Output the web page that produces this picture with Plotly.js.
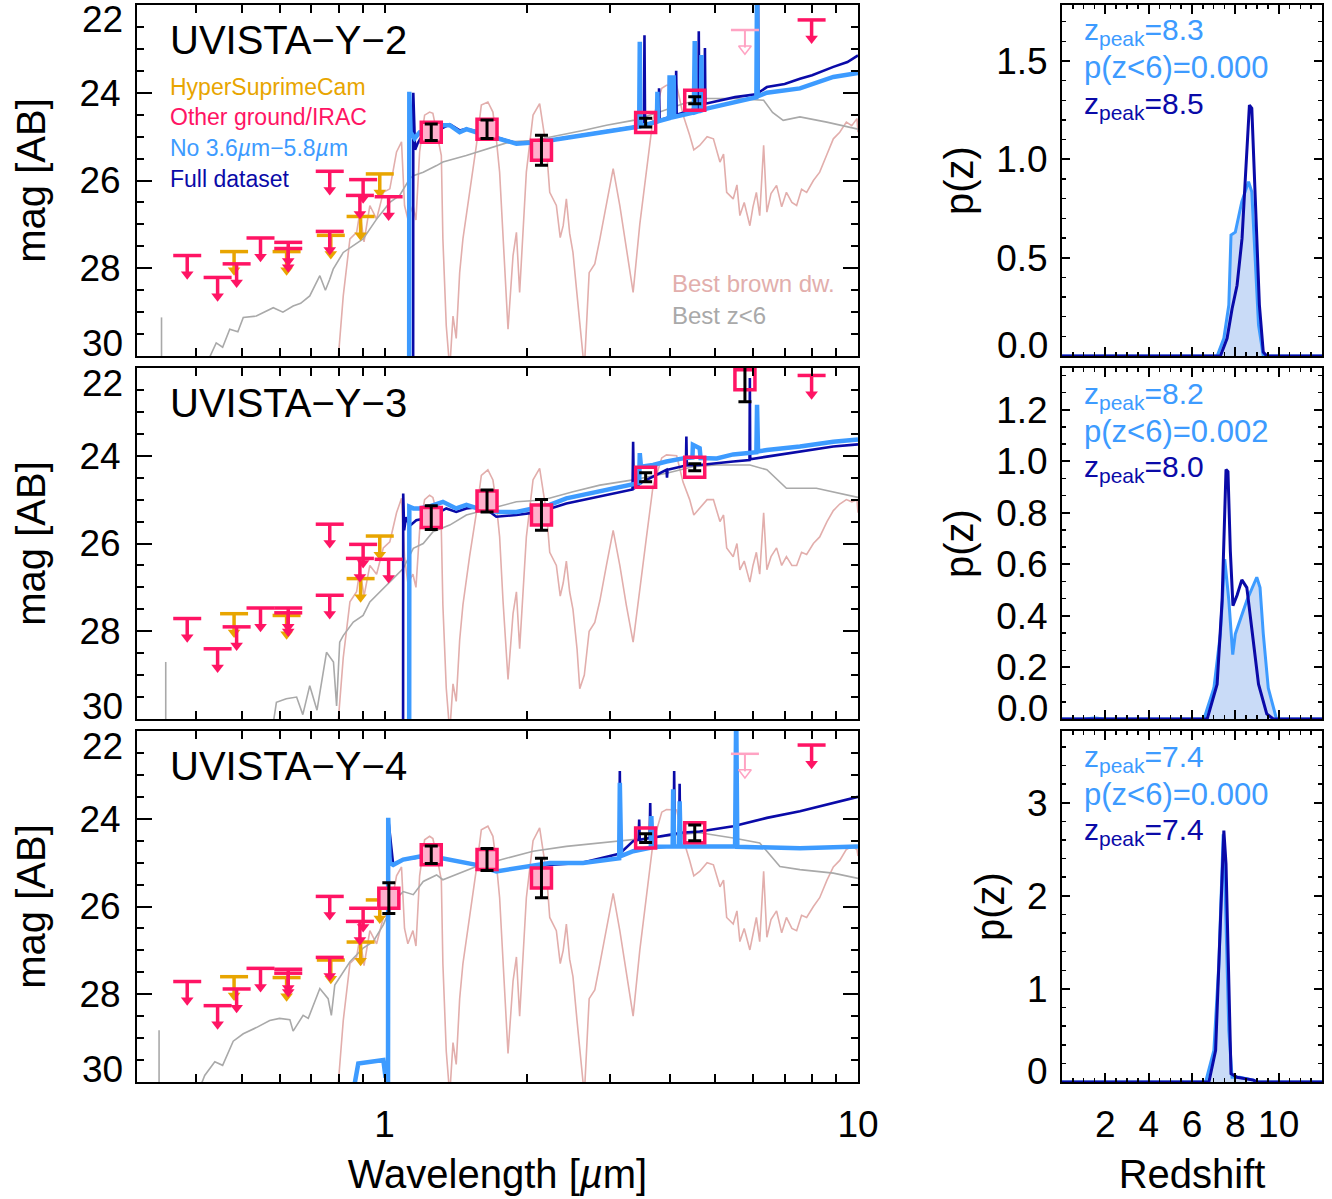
<!DOCTYPE html>
<html><head><meta charset="utf-8">
<script src="https://cdn.plot.ly/plotly-3.0.1.min.js"></script>
<style>html,body{margin:0;padding:0;background:#fff}#chart{width:1332px;height:1199px}</style>
</head><body><div id="chart"></div>
<script>
// ---------------- DATA ----------------
const panelNames = ['UVISTA\u2212Y\u22122', 'UVISTA\u2212Y\u22123', 'UVISTA\u2212Y\u22124'];
const zpeakNoIrac = ['8.3', '8.2', '7.4'];
const pLowZ = ['0.000', '0.002', '0.000'];
const zpeakFull = ['8.5', '8.0', '7.4'];

const wavelengthTickVals = [0.3,0.4,0.5,0.6,0.7,0.8,0.9,1,2,3,4,5,6,7,8,9,10];
const wavelengthTickText = ['','','','','','','','1','','','','','','','','','10'];
const magTickVals = [22,24,26,28,30];
const magTickText = ['','24','26','28',''];
const zTickVals = [2,4,6,8,10];
const zTickText = ['2','4','6','8','10'];

// brown dwarf template (shared wavelengths)
const bdLam = [0.795,0.818,0.845,0.873,0.887,0.905,0.931,0.962,0.994,1.026,1.06,1.086,1.102,1.12,1.148,1.165,1.186,1.215,1.245,1.265,1.297,1.318,1.328,1.35,1.373,1.395,1.417,1.441,1.464,1.512,1.563,1.601,1.653,1.694,1.722,1.75,1.779,1.823,1.868,1.899,1.929,1.962,1.993,2.059,2.126,2.198,2.233,2.306,2.35,2.384,2.421,2.46,2.5,2.55,2.584,2.642,2.705,2.78,2.85,2.942,3.04,3.14,3.24,3.35,3.46,3.57,3.69,3.85,3.94,4.14,4.27,4.41,4.5,4.63,4.8,4.95,5.11,5.2,5.28,5.45,5.55,5.63,5.75,5.91,6.0,6.1,6.2,6.32,6.42,6.55,6.73,6.9,7.06,7.25,7.42,7.6,7.79,8.05,8.3,8.6,8.87,9.15,9.45,9.7,9.95,10.0];
const bdMag1 = [30.3,28.63,27.33,27.18,26.72,27.4,26.57,26.88,26.27,26.19,25.35,25.12,26.57,26.88,26.57,26.9,25.35,24.51,24.44,24.47,25.05,25.43,27.33,29.31,30.3,29.09,29.6,28.1,27.33,26.27,25.2,24.28,24.21,24.44,25.05,25.81,27.33,29.39,27.71,27.18,28.55,27.18,25.81,24.51,24.25,25.28,26.27,26.57,27.3,27.03,26.42,27.2,27.64,28.6,29.24,30.3,28.1,27.9,27.33,26.57,25.73,26.57,27.56,28.55,27.0,25.81,24.59,23.9,23.83,23.83,24.5,24.97,25.3,25.2,25.0,25.05,25.58,25.4,26.27,26.42,26.1,26.8,26.5,27.03,26.6,26.27,26.8,25.2,26.72,26.3,26.11,26.6,26.27,26.5,26.57,26.2,26.27,26.0,25.81,25.4,25.05,24.9,24.67,24.75,24.59,24.9];
const bdMag2 = [30.3,28.6,27.33,27.1,26.6,27.2,26.5,26.7,26.1,25.96,25.3,24.97,26.3,26.9,26.7,27.0,25.7,25.0,24.9,24.95,25.4,25.7,27.4,29.3,30.3,29.2,29.6,28.2,27.4,26.3,25.3,24.45,24.32,24.55,25.1,25.85,27.3,29.1,27.6,27.1,28.4,27.1,25.85,24.55,24.29,25.3,26.2,26.5,27.2,26.9,26.4,27.1,27.5,28.4,29.31,29.0,28.0,27.8,27.3,26.5,25.7,26.5,27.4,28.25,27.0,25.9,24.7,24.05,23.98,24.0,24.6,25.0,25.35,25.2,25.0,25.0,25.5,25.35,26.1,26.3,26.0,26.6,26.4,26.88,26.5,26.2,26.7,25.3,26.6,26.3,26.1,26.5,26.3,26.5,26.5,26.2,26.25,26.0,25.85,25.5,25.25,25.1,25.0,25.05,25.01,25.3];
const bdMag3 = [30.3,28.6,27.3,27.15,26.7,27.35,26.55,26.85,26.25,26.15,25.3,25.1,26.5,26.85,26.55,26.9,25.3,24.48,24.4,24.45,25.0,25.4,27.3,29.3,30.3,29.1,29.6,28.1,27.3,26.25,25.15,24.25,24.17,24.4,25.0,25.8,27.3,29.35,27.7,27.15,28.5,27.15,25.8,24.5,24.21,25.25,26.25,26.55,27.3,27.0,26.4,27.2,27.6,28.6,29.2,30.3,28.1,27.9,27.3,26.55,25.7,26.55,27.5,28.5,27.0,25.8,24.55,23.85,23.79,23.8,24.45,24.95,25.3,25.2,25.0,25.05,25.55,25.4,26.25,26.4,26.1,26.8,26.5,26.99,26.6,26.25,26.8,25.2,26.7,26.3,26.1,26.6,26.25,26.5,26.55,26.2,26.25,26.0,25.8,25.4,25.1,24.95,24.7,24.63,24.7,24.85];

// best z<6 solution (grey); null breaks the line
const lowzLam1 = [0.338,0.338,null,0.42,0.441,0.455,0.471,0.49,0.503,0.536,0.56,0.582,0.61,0.641,0.665,0.695,0.73,0.75,0.766,0.779,0.818,0.859,0.901,0.962,1.026,1.076,1.13,1.15,1.207,1.288,1.328,1.488,1.64,1.837,2.059,2.344,2.625,2.942,3.35,3.81,4.27,4.79,5.45,6.32,6.6,6.95,7.54,8.59,9.95,10.0];
const lowzMag1 = [30.2,29.12,null,30.2,29.7,29.8,29.39,29.45,29.12,29.09,28.98,28.9,29.0,28.86,28.8,28.63,28.17,28.5,28.25,28.02,27.64,27.49,27.33,26.88,26.5,26.34,25.96,25.89,25.81,25.66,25.58,25.43,25.28,25.12,25.09,24.97,24.86,24.74,24.63,24.44,24.25,24.13,24.13,24.17,24.45,24.63,24.55,24.67,24.82,24.83];
const lowzLam2 = [0.345,0.345,null,0.58,0.591,0.62,0.652,0.672,0.695,0.72,0.754,0.78,0.792,0.804,0.818,0.859,0.901,0.931,0.994,1.06,1.095,1.15,1.207,1.266,1.373,1.489,1.694,1.899,2.16,2.5,2.85,3.35,3.94,4.48,5.03,5.91,6.42,7.06,8.17,9.95,10.0];
const lowzMag2 = [30.2,28.70,null,30.2,29.62,29.54,29.5,29.9,29.24,29.8,28.48,28.7,29.7,28.25,28.1,27.79,27.64,27.33,27.03,26.72,26.57,26.11,26.0,25.73,25.58,25.35,25.2,25.05,25.01,24.82,24.67,24.55,24.4,24.25,24.21,24.21,24.32,24.74,24.74,24.93,24.95];
const lowzLam3 = [0.334,0.334,null,0.405,0.417,0.438,0.455,0.479,0.503,0.536,0.572,0.6,0.631,0.641,0.673,0.69,0.73,0.76,0.772,0.785,0.845,0.901,0.946,0.994,1.043,1.095,1.15,1.207,1.288,1.328,1.563,1.808,2.059,2.421,2.85,3.35,3.94,4.63,5.45,6.2,6.84,7.54,8.87,9.95,10.0];
const lowzMag3 = [30.2,28.82,null,30.2,29.85,29.54,29.62,29.07,28.9,28.76,28.6,28.55,28.58,28.84,28.48,28.55,27.87,28.1,28.48,27.79,27.26,26.95,26.8,26.42,25.89,25.66,25.73,25.43,25.28,25.39,25.09,24.9,24.74,24.63,24.55,24.48,24.4,24.32,24.44,24.55,25.09,25.16,25.24,25.35,25.36];

// full dataset fit (dark blue)
const fullLam1 = [1.149,1.15,1.16,1.175,1.19,1.25,1.3,1.373,1.441,1.489,1.563,1.751,1.899,2.126,2.344,2.625,3.088,3.40,3.53,3.54,3.55,3.79,3.8,3.81,4.12,4.13,4.14,4.6,4.61,4.62,4.74,4.75,4.76,5.5,6.14,6.15,6.16,6.42,7.0,7.54,8.0,8.87,9.5,10.0];
const fullMag1 = [32,24.0,25.3,25.15,25.05,24.92,24.85,24.72,24.86,24.82,24.88,25.03,25.15,25.12,25.05,24.97,24.85,24.77,24.74,22.69,24.73,24.64,23.9,24.63,24.5,23.5,24.5,24.35,22.6,24.34,24.3,22.98,24.25,24.1,24.03,21.5,24.0,23.87,23.8,23.68,23.6,23.41,23.3,23.15];
const fullLam2 = [1.094,1.095,1.1,1.11,1.13,1.167,1.25,1.35,1.417,1.489,1.614,1.722,1.899,2.126,2.421,2.85,3.30,3.34,3.35,3.36,3.5,3.94,3.95,3.96,4.33,4.34,4.35,4.63,5.45,5.90,5.91,5.92,6.42,7.54,8.87,10.0];
const fullMag2 = [32,24.86,25.7,25.4,25.6,25.47,25.4,25.2,25.28,25.2,25.16,25.39,25.35,25.28,25.09,24.93,24.78,24.77,23.68,24.75,24.6,24.32,24.5,24.32,24.22,23.56,24.22,24.21,24.13,24.1,22.23,24.08,24.02,23.9,23.79,23.74];
const fullLam3 = [1.017,1.018,1.043,1.095,1.25,1.373,1.563,1.722,1.993,2.625,3.09,3.13,3.14,3.15,3.35,3.44,3.45,3.46,3.63,3.64,3.65,4.08,4.09,4.1,4.19,4.2,4.21,4.63,5.45,6.42,7.54,8.87,10.0];
const fullMag3 = [32,24.0,25.05,24.93,24.85,24.93,25.05,25.2,25.09,25.0,24.82,24.8,22.91,24.78,24.51,24.48,24.02,24.48,24.44,23.64,24.44,24.35,22.91,24.34,24.33,23.2,24.32,24.29,24.17,23.98,23.83,23.64,23.5];

// fit without 3.6-5.8um (light blue)
const noIracLam1 = [1.127,1.128,1.135,1.157,1.186,1.25,1.328,1.373,1.441,1.489,1.563,1.751,1.899,2.126,2.344,2.625,3.088,3.40,3.45,3.46,3.47,3.76,3.77,3.78,3.99,4.0,4.01,4.07,4.08,4.09,4.5,4.52,4.54,4.66,4.67,4.68,4.79,5.5,6.1,6.12,6.14,6.42,7.54,8.87,9.5,10.0];
const noIracMag1 = [32,23.98,24.9,25.04,24.9,24.85,24.74,24.74,24.9,24.83,24.9,25.05,25.16,25.12,25.05,24.97,24.86,24.78,24.77,22.84,24.76,24.66,23.98,24.65,24.58,23.6,24.57,24.55,23.6,24.55,24.45,22.82,24.44,24.4,23.14,24.4,24.36,24.22,24.1,21.5,24.08,24.0,23.9,23.64,23.6,23.55];
const noIracLam2 = [1.127,1.128,1.15,1.186,1.25,1.328,1.417,1.489,1.614,1.751,1.899,2.233,2.421,2.85,3.35,3.45,3.46,3.48,3.69,3.94,4.27,4.47,4.48,4.56,4.63,4.65,5.03,5.45,6.1,6.12,6.15,6.42,7.54,8.87,10.0];
const noIracMag2 = [32,25.16,25.2,25.2,25.15,25.05,25.2,25.12,25.24,25.28,25.28,25.12,24.97,24.82,24.67,24.62,23.94,24.25,24.21,24.13,24.06,24.04,23.75,23.8,23.83,24.05,24.06,23.97,23.92,22.84,23.9,23.87,23.79,23.68,23.63];
const noIracLam3 = [0.865,0.866,0.88,0.931,0.994,1.005,1.012,1.017,1.018,1.025,1.043,1.095,1.188,1.25,1.373,1.563,1.722,1.993,2.233,2.625,3.04,3.13,3.14,3.16,3.35,3.65,3.66,3.68,4.06,4.07,4.09,4.19,4.2,4.22,5.5,5.53,5.56,6.42,7.54,8.87,10.0];
const noIracMag3 = [32,30.0,29.58,29.54,29.5,29.9,29.6,30.2,23.98,25.0,25.05,24.93,24.86,24.85,24.93,25.05,25.2,25.09,25.01,25.01,24.93,24.9,23.18,24.85,24.74,24.66,23.94,24.64,24.63,23.33,24.63,24.63,23.6,24.63,24.63,21.5,24.64,24.65,24.67,24.65,24.63];

// detections (filled: NIR, open: IRAC)
const nirLam1 = [1.255,1.646,2.145], nirMag1 = [24.90,24.83,25.31], nirErr1 = [0.19,0.21,0.34];
const nirLam2 = [1.255,1.646,2.145], nirMag2 = [25.41,25.03,25.35], nirErr2 = [0.27,0.25,0.35];
const nirLam3 = [1.021,1.255,1.646,2.145], nirMag3 = [25.81,24.82,24.93,25.35], nirErr3 = [0.35,0.2,0.25,0.45];
const iracLam1 = [3.56,4.52], iracMag1 = [24.68,24.17], iracErr1 = [0.1,0.08];
const iracLam2 = [3.56,4.52,5.77], iracMag2 = [24.49,24.26,22.27], iracErr2 = [0.1,0.08,0.5];
const iracLam3 = [3.56,4.52], iracMag3 = [24.44,24.32], iracErr3 = [0.1,0.18];

// upper limits
const hscLimLam1 = [0.481,0.621,0.77,0.89,0.977], hscLimMag1 = [27.62,27.62,27.25,26.82,25.85];
const hscLimLam2 = [0.481,0.621,0.89,0.977], hscLimMag2 = [27.6,27.64,26.8,25.83];
const hscLimLam3 = [0.481,0.621,0.77,0.89,0.977], hscLimMag3 = [27.6,27.62,27.22,26.81,25.85];
const othLimLam1 = [0.383,0.444,0.487,0.547,0.626,0.626,0.766,0.766,0.901,0.887,1.02,7.98];
const othLimMag1 = [27.71,28.21,27.90,27.31,27.41,27.55,25.79,27.16,25.98,26.34,26.37,22.34];
const othLimLam2 = [0.383,0.444,0.487,0.547,0.626,0.626,0.766,0.766,0.901,0.887,1.02,7.98];
const othLimMag2 = [27.71,28.4,27.90,27.47,27.47,27.58,25.56,27.18,26.02,26.34,26.36,22.17];
const othLimLam3 = [0.383,0.444,0.487,0.547,0.626,0.626,0.766,0.766,0.901,0.887,7.98];
const othLimMag3 = [27.71,28.26,27.88,27.41,27.43,27.52,25.77,27.16,26.04,26.34,22.32];
const exclLimLam1 = [5.77], exclLimMag1 = [22.57];
const exclLimLam3 = [5.77], exclLimMag3 = [22.52];

// p(z)
const pzNoIracZ1 = [0,7.16,7.47,7.70,7.80,8.0,8.30,8.61,8.76,8.87,9.07,9.29,12];
const pzNoIracP1 = [0,0,0.09,0.26,0.615,0.63,0.785,0.886,0.835,0.598,0.158,0,0];
const pzFullZ1 = [0,7.31,7.62,7.85,8.08,8.31,8.46,8.65,8.76,8.91,9.11,9.29,9.45,12];
const pzFullP1 = [0,0,0.09,0.24,0.36,0.598,0.90,1.276,1.26,0.835,0.26,0.02,0,0];
const pzNoIracZ2 = [0,1.0,1.5,2.0,6.55,7.01,7.31,7.51,7.70,7.88,8.0,8.53,8.99,9.14,9.29,9.52,9.9,12];
const pzNoIracP2 = [0,0,0.004,0,0,0.12,0.33,0.62,0.46,0.25,0.33,0.46,0.55,0.51,0.33,0.12,0,0];
const pzFullZ2 = [0,6.7,7.16,7.39,7.57,7.66,7.77,7.89,8.08,8.3,8.53,8.76,9.07,9.45,9.75,12];
const pzFullP2 = [0,0,0.135,0.46,0.968,0.96,0.65,0.44,0.48,0.54,0.51,0.355,0.135,0.02,0,0];
const pzNoIracZ3 = [0,6.63,7.01,7.24,7.44,7.54,7.70,7.85,8.2,8.84,9.0,12];
const pzNoIracP3 = [0,0,0.34,1.27,2.66,1.98,0.55,0.05,0.05,0.02,0,0];
const pzFullZ3 = [0,6.78,7.09,7.28,7.47,7.57,7.70,7.80,8.08,8.84,9.0,12];
const pzFullP3 = [0,0,0.34,1.63,2.70,2.34,0.91,0.09,0.05,0.02,0,0];

const pzRanges = [[0,1.785],[0,1.362],[0,3.77]];
const pzTickVals = [[0,0.5,1,1.5],[0,0.2,0.4,0.6,0.8,1.0,1.2],[0,1,2,3]];
const pzTickText = [['','0.5','1.0','1.5'],['','0.2','0.4','0.6','0.8','1.0','1.2'],['','1','2','3']];
const pzZeroText = ['0.0','0.0','0'];
const pzMinor = [0.1, 0.2/3, 0.2];

// ---------------- STYLE ----------------
const FONT = 'Liberation Sans, Arial, sans-serif';
const C = {
  light:'#3D9BFF', dark:'#0A0AA8', fill:'#C9DBF7', grey:'#A9A9A9', bd:'#E2AEAC',
  red:'#FF1464', gold:'#E8A500', pale:'#FFA3C3', sqFill:'#FFB0CC'
};
const W = 1332, H = 1199;
const rowTop = [5, 368, 731], rowBot = [356, 719, 1082];
const L0 = 137, L1 = 858, R0 = 1062, R1 = 1322;
const STEM = 0.4, HEAD = 0.426;

const panels = [
  {bd:bdMag1, lzL:lowzLam1, lzM:lowzMag1, fL:fullLam1, fM:fullMag1, nL:noIracLam1, nM:noIracMag1,
   nirL:nirLam1, nirM:nirMag1, nirE:nirErr1, irL:iracLam1, irM:iracMag1, irE:iracErr1,
   hL:hscLimLam1, hM:hscLimMag1, oL:othLimLam1, oM:othLimMag1, eL:exclLimLam1, eM:exclLimMag1,
   pzNZ:pzNoIracZ1, pzNP:pzNoIracP1, pzFZ:pzFullZ1, pzFP:pzFullP1},
  {bd:bdMag2, lzL:lowzLam2, lzM:lowzMag2, fL:fullLam2, fM:fullMag2, nL:noIracLam2, nM:noIracMag2,
   nirL:nirLam2, nirM:nirMag2, nirE:nirErr2, irL:iracLam2, irM:iracMag2, irE:iracErr2,
   hL:hscLimLam2, hM:hscLimMag2, oL:othLimLam2, oM:othLimMag2, eL:[], eM:[],
   pzNZ:pzNoIracZ2, pzNP:pzNoIracP2, pzFZ:pzFullZ2, pzFP:pzFullP2},
  {bd:bdMag3, lzL:lowzLam3, lzM:lowzMag3, fL:fullLam3, fM:fullMag3, nL:noIracLam3, nM:noIracMag3,
   nirL:nirLam3, nirM:nirMag3, nirE:nirErr3, irL:iracLam3, irM:iracMag3, irE:iracErr3,
   hL:hscLimLam3, hM:hscLimMag3, oL:othLimLam3, oM:othLimMag3, eL:exclLimLam3, eM:exclLimMag3,
   pzNZ:pzNoIracZ3, pzNP:pzNoIracP3, pzFZ:pzFullZ3, pzFP:pzFullP3}
];

const axName = n => (n === 1 ? '' : String(n));
const traces = [];
const layout = {
  width: W, height: H, margin: {l:0, r:0, t:0, b:0},
  paper_bgcolor:'white', plot_bgcolor:'white', showlegend:false,
  font:{family:FONT, color:'black'}, annotations:[]
};

function line(x, y, xa, ya, color, width) {
  return {type:'scatter', mode:'lines', x, y, xaxis:xa, yaxis:ya, hoverinfo:'skip',
          line:{color, width}, connectgaps:false, cliponaxis:true};
}
function limits(lam, mag, color, xa, ya, open) {
  if (!lam.length) return [];
  return [
    {type:'scatter', mode:'markers', x:lam, y:mag, xaxis:xa, yaxis:ya, hoverinfo:'skip',
     marker:{symbol:'line-ew', size:20, color, line:{color, width:open?2.5:3.5}},
     error_y:{type:'constant', symmetric:false, value:STEM, valueminus:0, width:0, thickness:open?2:3.5, color}},
    {type:'scatter', mode:'markers', x:lam, y:mag.map(m => m + HEAD), xaxis:xa, yaxis:ya, hoverinfo:'skip',
     marker:{symbol:open?'triangle-down-open':'triangle-down', size:11, color, line:{color, width:open?1.5:0}}}
  ];
}

panels.forEach((p, r) => {
  const n = r + 1, m = r + 4;
  const xa = 'x' + axName(n), ya = 'y' + axName(n);
  const xb = 'x' + m, yb = 'y' + m;
  const dom = [1 - rowBot[r] / H, 1 - rowTop[r] / H];

  traces.push(line(bdLam, p.bd, xa, ya, C.bd, 1.6));
  traces.push(line(p.lzL, p.lzM, xa, ya, C.grey, 1.6));
  traces.push(line(p.fL, p.fM, xa, ya, C.dark, 2.6));
  traces.push(line(p.nL, p.nM, xa, ya, C.light, 4.5));
  traces.push(...limits(p.hL, p.hM, C.gold, xa, ya, false));
  traces.push(...limits(p.oL, p.oM, C.red, xa, ya, false));
  traces.push(...limits(p.eL, p.eM, C.pale, xa, ya, true));
  traces.push({type:'scatter', mode:'markers', x:p.nirL, y:p.nirM, xaxis:xa, yaxis:ya, hoverinfo:'skip',
    marker:{symbol:'square', size:20, color:C.sqFill, line:{color:C.red, width:3.5}}});
  traces.push({type:'scatter', mode:'markers', x:p.irL, y:p.irM, xaxis:xa, yaxis:ya, hoverinfo:'skip',
    marker:{symbol:'square-open', size:20, color:C.red, line:{color:C.red, width:3.5}}});
  traces.push({type:'scatter', mode:'markers', x:p.nirL.concat(p.irL), y:p.nirM.concat(p.irM), xaxis:xa, yaxis:ya,
    hoverinfo:'skip', marker:{size:1, opacity:0},
    error_y:{type:'data', array:p.nirE.concat(p.irE), color:'black', thickness:3, width:6.5}});

  // p(z)
  traces.push({type:'scatter', mode:'lines', x:p.pzNZ, y:p.pzNP, xaxis:xb, yaxis:yb, hoverinfo:'skip',
    fill:'tozeroy', fillcolor:C.fill, line:{color:C.light, width:3}});
  traces.push({type:'scatter', mode:'lines', x:p.pzFZ, y:p.pzFP, xaxis:xb, yaxis:yb, hoverinfo:'skip',
    line:{color:C.dark, width:3}});

  const common = {showline:true, linecolor:'black', linewidth:2, mirror:'ticks', ticks:'inside',
                  tickcolor:'black', tickwidth:2, showgrid:false, zeroline:false, tickfont:{size:37, family:FONT}};

  layout['xaxis' + axName(n)] = Object.assign({}, common, {
    type:'log', range:[Math.log10(0.3), 1], domain:[L0 / W, L1 / W], anchor:ya,
    tickmode:'array', tickvals:wavelengthTickVals, ticktext:wavelengthTickText, ticklen:8,
    showticklabels: r === 2, ticklabelstandoff: 9,
    title: r === 2 ? {text:'Wavelength [<i>\u00b5</i>m]', font:{size:40}, standoff:16} : undefined
  });
  layout['yaxis' + axName(n)] = Object.assign({}, common, {
    range:[30, 22], domain:dom, anchor:xa, tickmode:'array', tickvals:magTickVals, ticktext:magTickText,
    ticklen:15, ticklabelstandoff:7,
    minor:{ticks:'inside', ticklen:7, tickwidth:2, tickcolor:'black', tickmode:'linear', tick0:22, dtick:0.5, showgrid:false},
    title:{text:'mag [AB]', font:{size:40}, standoff:21}
  });
  layout['xaxis' + m] = Object.assign({}, common, {
    range:[0, 12], domain:[R0 / W, R1 / W], anchor:yb, tickmode:'array', tickvals:zTickVals, ticktext:zTickText,
    ticklen:9, showticklabels: r === 2, ticklabelstandoff: 9,
    minor:{ticks:'inside', ticklen:4, tickwidth:1.5, tickcolor:'black', tickmode:'linear', tick0:0, dtick:0.5, showgrid:false},
    title: r === 2 ? {text:'Redshift', font:{size:40}, standoff:16} : undefined
  });
  layout['yaxis' + m] = Object.assign({}, common, {
    range:pzRanges[r], domain:dom, anchor:xb, tickmode:'array', tickvals:pzTickVals[r], ticktext:pzTickText[r],
    ticklen:8, ticklabelstandoff:5,
    minor:{ticks:'inside', ticklen:4, tickwidth:1.5, tickcolor:'black', tickmode:'linear', tick0:0, dtick:pzMinor[r], showgrid:false},
    title:{text:'p(z)', font:{size:40}, standoff:10}
  });

  // extreme tick labels, nudged inside the frame
  const A = layout.annotations;
  A.push({text:String(magTickVals[0]), xref:xa + ' domain', x:0, xanchor:'right', xshift:-12, yref:ya, y:22, yanchor:'middle', yshift:-15, showarrow:false, font:{size:37}});
  A.push({text:String(magTickVals[4]), xref:xa + ' domain', x:0, xanchor:'right', xshift:-12, yref:ya, y:30, yanchor:'middle', yshift:13, showarrow:false, font:{size:37}});
  A.push({text:pzZeroText[r], xref:xb + ' domain', x:0, xanchor:'right', xshift:-12, yref:yb, y:0, yanchor:'middle', yshift:11, showarrow:false, font:{size:37}});

  // panel name
  A.push({text:panelNames[r], xref:'paper', yref:'paper', x:168 / W, y:1 - (rowTop[r] + 35) / H,
          xanchor:'left', yanchor:'middle', showarrow:false, font:{size:40, color:'black'}});
  // p(z) labels
  const zy = [rowTop[r] + 27, rowTop[r] + 63, rowTop[r] + 100];
  A.push({text:'z<sub>peak</sub>=' + zpeakNoIrac[r], xref:'paper', yref:'paper', x:1083 / W, y:1 - zy[0] / H,
          xanchor:'left', yanchor:'middle', showarrow:false, borderpad:0, font:{size:30, color:C.light}});
  A.push({text:'p(z&lt;6)=' + pLowZ[r], xref:'paper', yref:'paper', x:1083 / W, y:1 - zy[1] / H,
          xanchor:'left', yanchor:'middle', showarrow:false, borderpad:0, font:{size:31, color:C.light}});
  A.push({text:'z<sub>peak</sub>=' + zpeakFull[r], xref:'paper', yref:'paper', x:1083 / W, y:1 - zy[2] / H,
          xanchor:'left', yanchor:'middle', showarrow:false, borderpad:0, font:{size:30, color:C.dark}});
});

// legend texts (panel 1)
const legendItems = [
  ['HyperSuprimeCam', C.gold, 87], ['Other ground/IRAC', C.red, 117],
  ['No 3.6<i>\u00b5</i>m\u22125.8<i>\u00b5</i>m', C.light, 148], ['Full dataset', C.dark, 179]
];
legendItems.forEach(([t, c, y]) => layout.annotations.push({text:t, xref:'paper', yref:'paper', x:168 / W, y:1 - y / H,
  xanchor:'left', yanchor:'middle', showarrow:false, font:{size:23, color:c}}));
layout.annotations.push({text:'Best brown dw.', xref:'paper', yref:'paper', x:670 / W, y:1 - 284 / H,
  xanchor:'left', yanchor:'middle', showarrow:false, font:{size:24, color:C.bd}});
layout.annotations.push({text:'Best z&lt;6', xref:'paper', yref:'paper', x:670 / W, y:1 - 315 / H,
  xanchor:'left', yanchor:'middle', showarrow:false, font:{size:24, color:C.grey}});

Plotly.newPlot('chart', traces, layout, {staticPlot:true, displayModeBar:false});
</script></body></html>
